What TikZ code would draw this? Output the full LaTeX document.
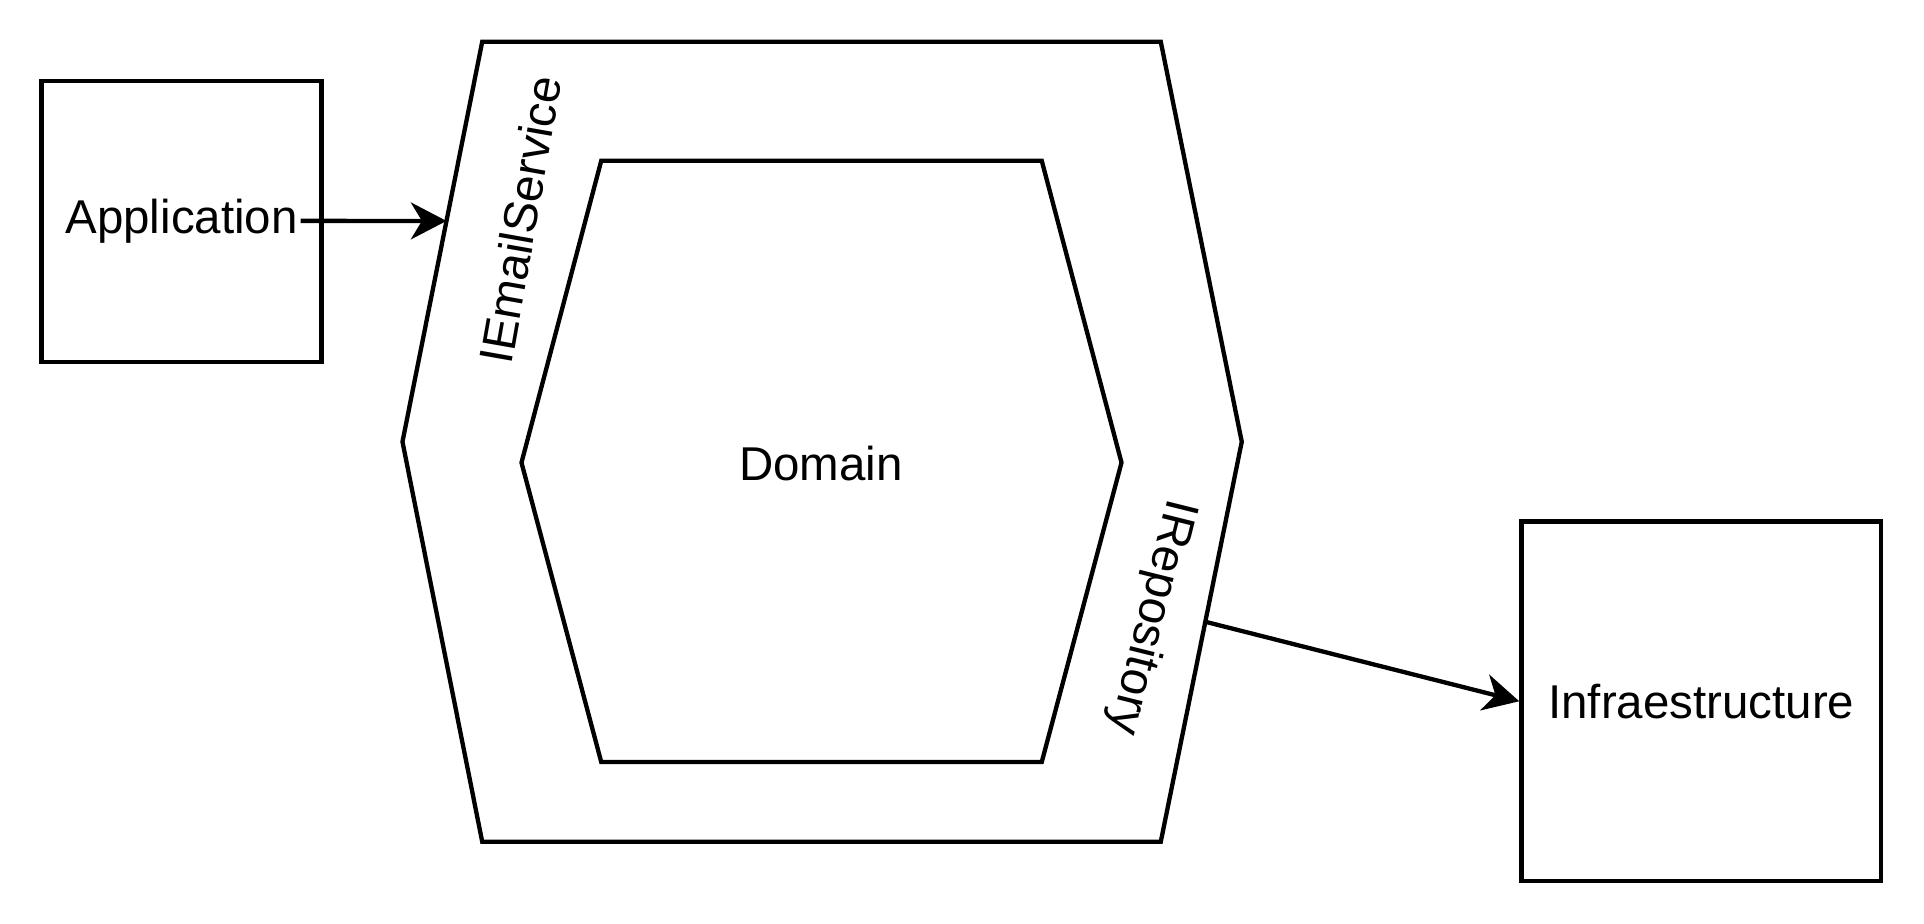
\documentclass[tikz,border=0pt]{standalone}
\usepackage{fontspec}
\setmainfont{Liberation Sans}
\usetikzlibrary{calc,arrows.meta}

\begin{document}
\begin{tikzpicture}
    [x=0.01cm,y=-0.01cm,line width=1pt,%
      box/.style={shape=rectangle,draw,line width=1pt,inner sep=0pt},%
      port/.style={inner sep=0pt},%
      arr/.style={-{Stealth[length=0.29cm,width=0.3cm,inset=0.09cm]}}]
    \fontsize{11}{13}\selectfont
    \useasboundingbox (0,0) rectangle (1568,753);
    % outer layer
    \coordinate (otl) at (393,34);
    \coordinate (otr) at (946,34);
    \coordinate (or)  at (1012,360);
    \coordinate (obr) at (946,686);
    \coordinate (obl) at (393,686);
    \coordinate (ol)  at (328,360);
    \draw (otl) -- (otr) -- (or) -- (obr) -- (obl) -- (ol) -- cycle;
    % domain
    \coordinate (itl) at (490,131);
    \coordinate (itr) at (849,131);
    \coordinate (ir)  at (914,377);
    \coordinate (ibr) at (849,621);
    \coordinate (ibl) at (490,621);
    \coordinate (il)  at (425,377);
    \draw (itl) -- (itr) -- (ir) -- (ibr) -- (ibl) -- (il) -- cycle;
    \node[port] (dom) at (669,378) {Domain};
    \node[port,rotate=80] (mail) at (424,179) {IEmailService};
    \node[port,rotate=-104] (repo) at (938,503) {IRepository};
    % outside
    \node[box,minimum width=2.28cm,minimum height=2.29cm] (app) at (148,180.5) {Application};
    \node[box,minimum width=2.93cm,minimum height=2.93cm] (infra) at (1386.5,571.5) {Infraestructure};
    \coordinate (appout) at (245,180);
    \coordinate (mailin) at ($(ol)!0.552!(otl)$);
    \coordinate (repoout) at ($(or)!0.45!(obr)$);
    \draw[arr] (appout) -- (mailin);
    \draw[arr] (repoout) -- (infra.west);
\end{tikzpicture}
\end{document}
